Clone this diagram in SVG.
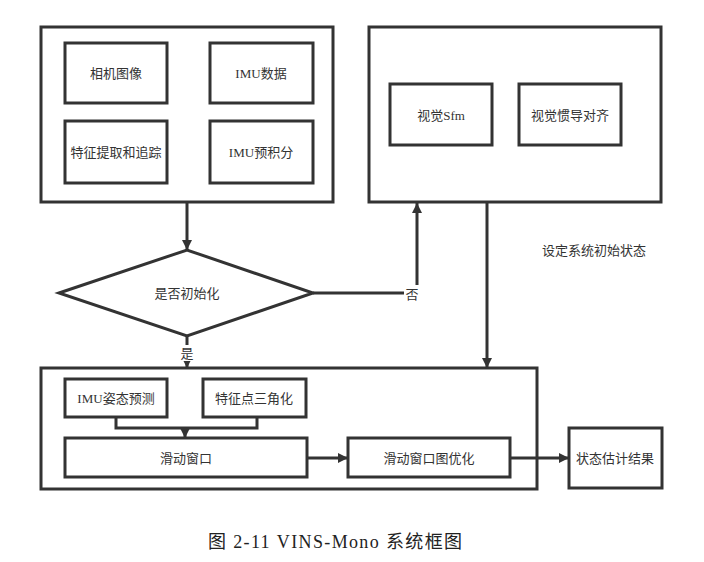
<svg xmlns="http://www.w3.org/2000/svg" width="704" height="562" viewBox="0 0 704 562">
<style>
.box{fill:#fff;stroke:#333;stroke-width:3}
.t{font-family:"Liberation Serif","Noto Sans CJK SC",serif;font-size:13px;fill:#333;text-anchor:middle;dominant-baseline:central}
.c{fill:none;stroke:#333;stroke-width:3}
</style>
<defs>
<marker id="ah" viewBox="0 0 10 10" refX="10" refY="5" markerWidth="10" markerHeight="10" markerUnits="userSpaceOnUse" orient="auto">
<path d="M0,0 L10,5 L0,10 z" fill="#333"/>
</marker>
</defs>
<rect width="704" height="562" fill="#fff"/>
<g id="frontend">
<rect class="box" x="41" y="27" width="292" height="175"/>
</g>
<g id="camera"><rect class="box" x="65" y="43" width="102" height="60"/><text class="t" x="116" y="73">相机图像</text></g>
<g id="imu-data"><rect class="box" x="210" y="43" width="103" height="60"/><text class="t" x="261" y="73">IMU数据</text></g>
<g id="feature"><rect class="box" x="65" y="121" width="102" height="62"/><text class="t" x="116" y="152">特征提取和追踪</text></g>
<g id="preint"><rect class="box" x="210" y="121" width="103" height="62"/><text class="t" x="261" y="152">IMU预积分</text></g>
<g id="init">
<rect class="box" x="369" y="27" width="292" height="175"/>
</g>
<g id="sfm"><rect class="box" x="390" y="84" width="102" height="61"/><text class="t" x="441" y="115">视觉Sfm</text></g>
<g id="align"><rect class="box" x="519" y="84" width="102" height="61"/><text class="t" x="570" y="115">视觉惯导对齐</text></g>
<g id="decision"><polygon class="box" points="59,293 187,250 313,293 187,336"/><text class="t" x="187" y="293">是否初始化</text></g>
<g id="backend"><rect class="box" x="41" y="368" width="496" height="121"/></g>
<g id="imu-pred"><rect class="box" x="65" y="379" width="102" height="38"/><text class="t" x="116" y="398">IMU姿态预测</text></g>
<g id="triang"><rect class="box" x="203" y="379" width="103" height="38"/><text class="t" x="254" y="398">特征点三角化</text></g>
<g id="window"><rect class="box" x="65" y="438" width="242" height="39"/><text class="t" x="186" y="458">滑动窗口</text></g>
<g id="optim"><rect class="box" x="348" y="438" width="162" height="39"/><text class="t" x="429" y="458">滑动窗口图优化</text></g>
<g id="result"><rect class="box" x="569" y="428" width="93" height="60"/><text class="t" x="615" y="458">状态估计结果</text></g>
<g id="connectors">
<path class="c" d="M187,202 V250" marker-end="url(#ah)"/>
<path class="c" d="M313,293 H417 V203" marker-end="url(#ah)"/>
<path class="c" d="M187,336 V368" marker-end="url(#ah)"/>
<path class="c" d="M487,202 V368" marker-end="url(#ah)"/>
<path class="c" d="M116,417 V428 H257 V417"/>
<path class="c" d="M185,428 V438" marker-end="url(#ah)"/>
<path class="c" d="M307,458 H348" marker-end="url(#ah)"/>
<path class="c" d="M510,458 H569" marker-end="url(#ah)"/>
<rect x="404" y="285" width="15" height="17" fill="#fff"/>
<text class="t" x="412" y="294">否</text>
<rect x="180" y="345" width="14" height="16" fill="#fff"/>
<text class="t" x="187" y="353">是</text>
</g>
<text class="t" x="594" y="250" textLength="104" lengthAdjust="spacing">设定系统初始状态</text>
<text x="335" y="542" font-family="Liberation Serif,Noto Sans CJK SC,serif" font-size="18" fill="#222" text-anchor="middle" dominant-baseline="central" textLength="254" lengthAdjust="spacing">图 2-11 VINS-Mono 系统框图</text>
</svg>
